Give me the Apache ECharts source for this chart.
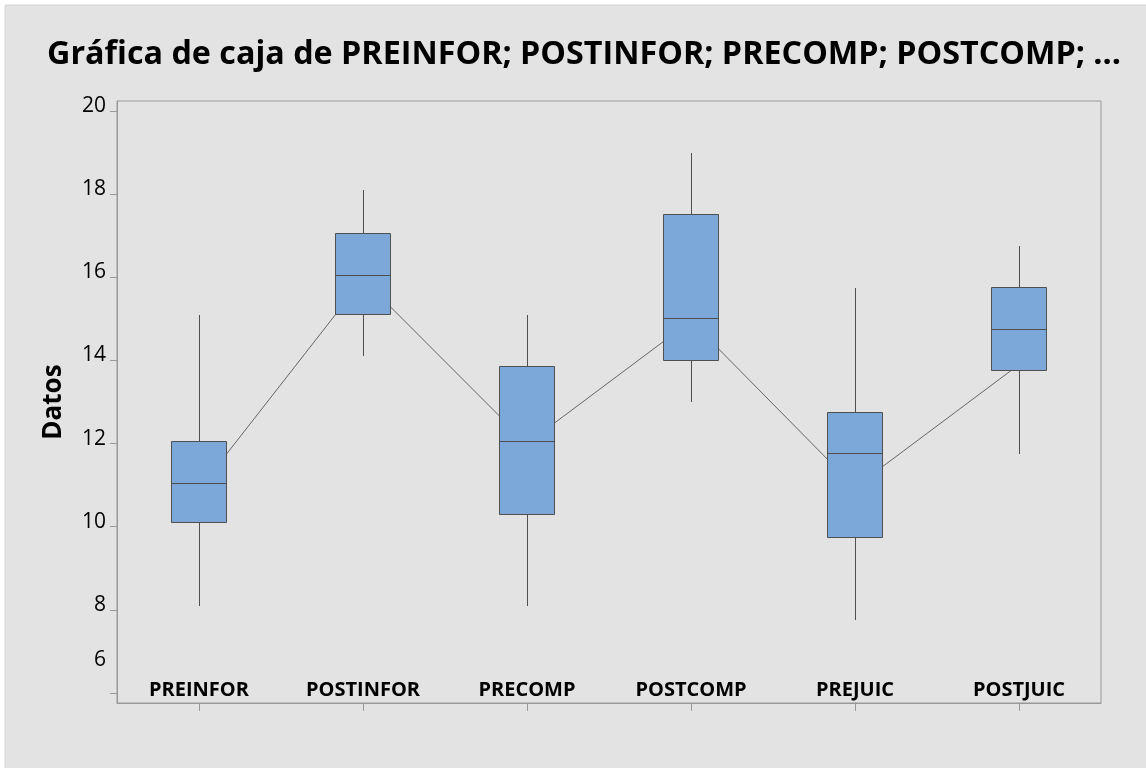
<!DOCTYPE html>
<html>
<head>
<meta charset="utf-8">
<script src="https://cdn.jsdelivr.net/npm/echarts@6/dist/echarts.min.js"></script>
<style>
html,body{margin:0;padding:0;background:#fff;}
#chart{width:1146px;height:768px;}
</style>
</head>
<body>
<div id="chart"></div>
<script>
var categories = ['PREINFOR','POSTINFOR','PRECOMP','POSTCOMP','PREJUIC','POSTJUIC'];
var whiskerLow  = [8.1, 14.1, 8.1, 13.0, 7.75, 11.75];
var q1          = [10.1, 15.1, 10.3, 14.0, 9.75, 13.75];
var median      = [11.05, 16.05, 12.05, 15.0, 11.75, 14.75];
var q3          = [12.05, 17.05, 13.85, 17.5, 12.75, 15.75];
var whiskerHigh = [15.1, 18.1, 15.1, 19.0, 15.75, 16.75];
var means       = [10.9, 15.95, 12.0, 14.95, 10.95, 13.9];
var yTicks = [6, 8, 10, 12, 14, 16, 18, 20];
var titleText = 'Gráfica de caja de PREINFOR; POSTINFOR; PRECOMP; POSTCOMP; ...';
var yName = 'Datos';

var boxData = categories.map(function(c, i){
  return [i, whiskerLow[i], q1[i], median[i], q3[i], whiskerHigh[i]];
});

function crisp(v){ return Math.round(v - 0.5) + 0.5; }

var chart = echarts.init(document.getElementById('chart'));
var FONT = '"Open Sans", "Noto Sans", sans-serif';
chart.setOption({
  backgroundColor: '#ffffff',
  animation: false,
  graphic: [{
    type: 'rect', z: -10, silent: true,
    shape: {x: 5, y: 5, width: 1146, height: 768},
    style: {fill: '#e3e3e3', stroke: '#d4d4d4', lineWidth: 1}
  }],
  title: {
    text: titleText,
    left: 42, top: 34,
    textStyle: {fontFamily: FONT, fontWeight: 'bold', fontSize: 32.3, color: '#000'}
  },
  grid: {
    left: 117, top: 101, right: 45, bottom: 65,
    show: true, borderColor: '#999', borderWidth: 1, backgroundColor: 'transparent'
  },
  xAxis: {
    type: 'category',
    data: categories,
    boundaryGap: true,
    axisLine: {show: true, lineStyle: {color: '#999', width: 1}},
    axisTick: {show: true, alignWithLabel: true, length: 8, lineStyle: {color: '#999'}},
    axisLabel: {inside: true, margin: 3, fontFamily: FONT, fontWeight: 'bold', fontSize: 20, color: '#000'},
    splitLine: {show: false}
  },
  yAxis: {
    type: 'value',
    min: 5.76, max: 20.24,
    name: yName,
    nameLocation: 'middle',
    nameRotate: 90,
    nameGap: 50,
    nameTextStyle: {fontFamily: FONT, fontWeight: 'bold', fontSize: 26, color: '#000'},
    axisLine: {show: true, lineStyle: {color: '#999', width: 1}},
    axisTick: {show: true, length: 7, customValues: yTicks, lineStyle: {color: '#999'}},
    axisLabel: {
      customValues: yTicks,
      margin: 11,
      fontFamily: FONT, fontSize: 21, color: '#000',
      formatter: function(v){ return v === 6 ? '{s|' + v + '}' : '{n|' + v + '}'; },
      rich: {
        n: {fontFamily: FONT, fontSize: 21, fontWeight: 500, color: '#000', padding: [0, 0, 10, 0]},
        s: {fontFamily: FONT, fontSize: 21, fontWeight: 500, color: '#000', padding: [0, 0, 66, 0]}
      }
    },
    splitLine: {show: false}
  },
  series: [
    {
      type: 'line',
      data: means,
      symbol: 'none',
      z: 1,
      lineStyle: {color: '#666', width: 1},
      silent: true
    },
    {
      type: 'custom',
      z: 3,
      data: boxData,
      encode: {x: 0, y: [1, 2, 3, 4, 5]},
      renderItem: function(params, api){
        var idx = api.value(0);
        var pLow = api.coord([idx, api.value(1)]);
        var pQ1 = api.coord([idx, api.value(2)]);
        var pMed = api.coord([idx, api.value(3)]);
        var pQ3 = api.coord([idx, api.value(4)]);
        var pHigh = api.coord([idx, api.value(5)]);
        var w = Math.round(api.size([1, 0])[0] * 0.335);
        var x = crisp(pMed[0]);
        var xl = crisp(pMed[0] - w / 2);
        var xr = xl + w;
        var yq3 = crisp(pQ3[1]), yq1 = crisp(pQ1[1]), ym = crisp(pMed[1]);
        var st = {stroke: '#4f4f4f', lineWidth: 1};
        return {type: 'group', children: [
          {type: 'line', shape: {x1: x, y1: Math.round(pHigh[1]), x2: x, y2: yq3}, style: st},
          {type: 'line', shape: {x1: x, y1: yq1, x2: x, y2: Math.round(pLow[1])}, style: st},
          {type: 'rect', shape: {x: xl, y: yq3, width: w, height: yq1 - yq3},
           style: {fill: '#7ba7d9', stroke: '#4f4f4f', lineWidth: 1}},
          {type: 'line', shape: {x1: xl, y1: ym, x2: xr, y2: ym}, style: st}
        ]};
      }
    }
  ]
});
</script>
</body>
</html>
